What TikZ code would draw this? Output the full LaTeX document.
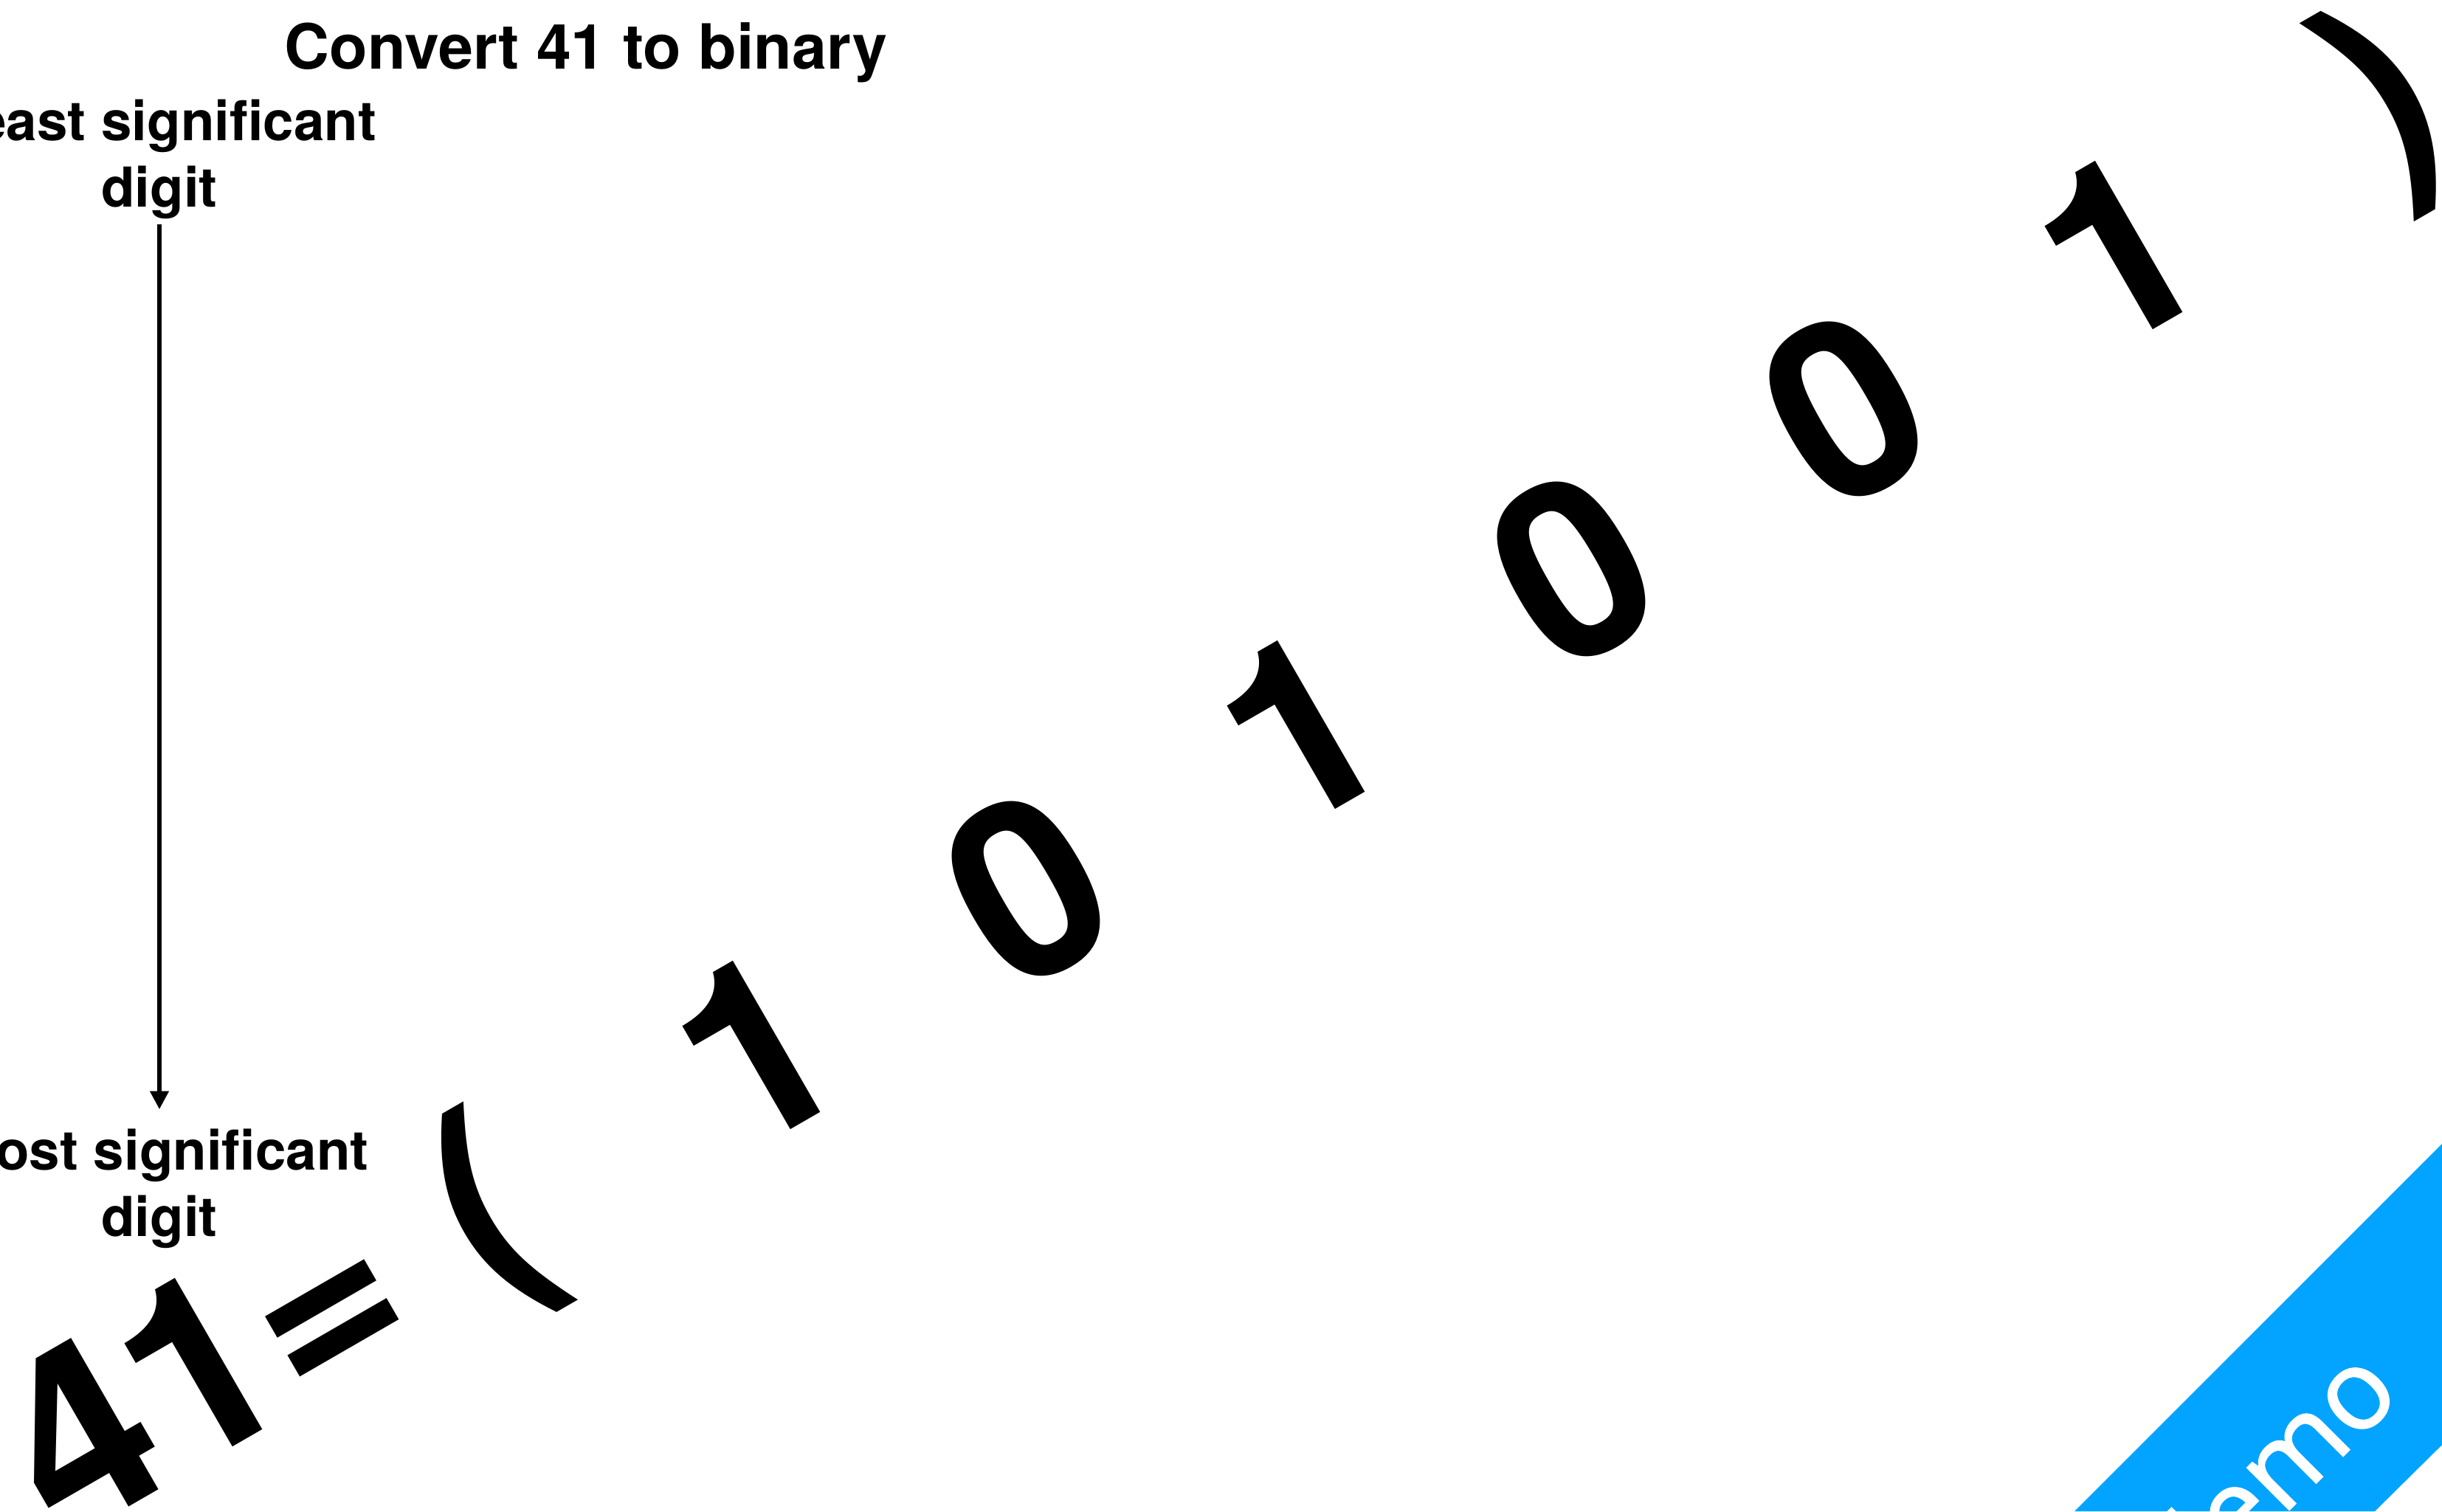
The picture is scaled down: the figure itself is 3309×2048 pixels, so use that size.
\documentclass[tikz,border=0pt]{standalone}
\usepackage{fontspec}
\setmainfont{TeX Gyre Heros}
\newfontfamily\ribbonfont[FakeBold=1.2]{Open Sans}
\usetikzlibrary{arrows.meta}
\definecolor{ribbonblue}{HTML}{02A4FF}
\def\tilt{30}

\begin{document}
\begin{tikzpicture}[x=0.01cm, y=-0.01cm,
    bigglyph/.style={font=\fontsize{95}{95}\selectfont\bfseries, inner sep=0pt, rotate=\tilt},
    caption/.style={font=\fontsize{21.2}{25.5}\selectfont\bfseries, align=center, inner sep=2pt},
    pointer/.style={line width=1.6pt, -{Triangle[width=7pt, length=7pt]}, shorten >=5.5pt}]
    \useasboundingbox (0,0) rectangle (3309,2048);

    \node [font=\fontsize{24}{29}\selectfont\bfseries, inner sep=0pt, anchor=base] (title) at (794,93) {Convert 41 to binary};
    \node [caption] (lsd) at (216,216) {Least significant\\digit};
    \node [caption] (msd) at (216,1611) {Most significant\\digit};
    \draw [pointer] (lsd) -- (msd);

    \node [bigglyph, anchor=base] (lhs) at (331,1952) {41=};
    \node [bigglyph] (lpar) at (666,1650) {(};
    \node [bigglyph, anchor=base] (b5) at (1083,1524) {1};
    \node [bigglyph, anchor=base] (b4) at (1452,1307) {0};
    \node [bigglyph, anchor=base] (b3) at (1821,1090) {1};
    \node [bigglyph, anchor=base] (b2) at (2191,874) {0};
    \node [bigglyph, anchor=base] (b1) at (2560,657) {0};
    \node [bigglyph, anchor=base] (b0) at (2929,440) {1};
    \node [bigglyph] (rpar) at (3235,142) {)};

    \fill [ribbonblue] (2811,2048) -- (3309,1550) -- (3309,1958) -- (3218,2048) -- cycle;
    \node [rotate=45, text=white, inner sep=0pt, font=\ribbonfont\fontsize{43}{43}\selectfont] (demo) at (3072,1996) {demo};
\end{tikzpicture}
\end{document}
